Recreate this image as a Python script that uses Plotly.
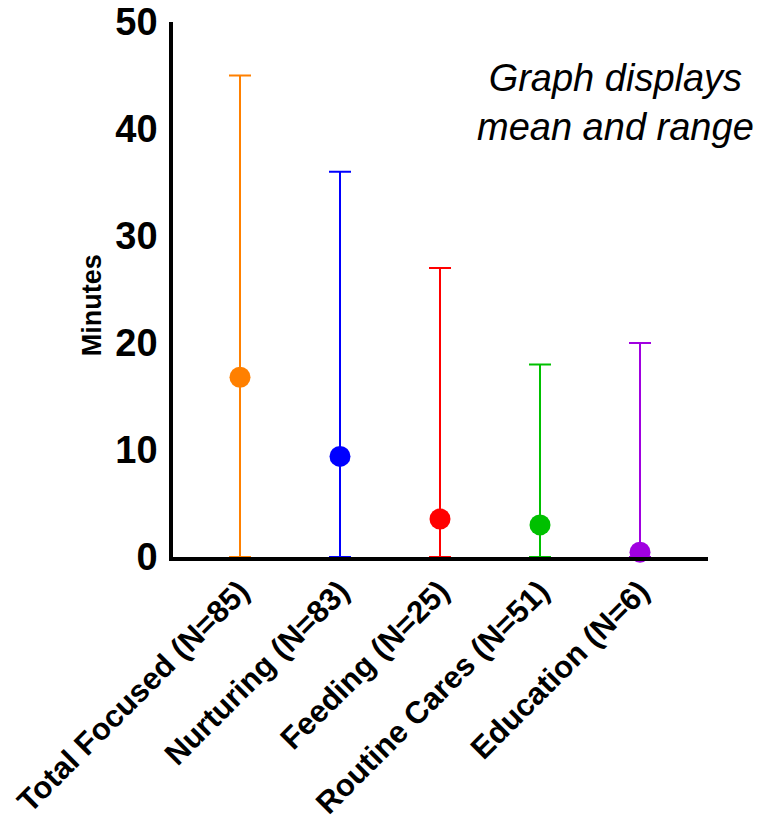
import plotly.graph_objects as go

categories = ["Total Focused (N=85)", "Nurturing (N=83)", "Feeding (N=25)",
              "Routine Cares (N=51)", "Education (N=6)"]
means = [16.8, 9.4, 3.55, 3.0, 0.45]
mins = [0, 0, 0, 0, 0]
maxs = [45, 36, 27, 18, 20]
colors = ["#FF8000", "#0000FF", "#FF0000", "#00C000", "#A000E0"]

FONT = "Liberation Sans, Arial, sans-serif"

fig = go.Figure()
for i, c in enumerate(categories):
    fig.add_trace(go.Scatter(
        x=[c], y=[means[i]], mode="markers",
        marker=dict(size=21, color=colors[i], symbol="circle"),
        error_y=dict(type="data", symmetric=False,
                     array=[maxs[i] - means[i]],
                     arrayminus=[means[i] - mins[i]],
                     color=colors[i], thickness=2, width=11),
        cliponaxis=False, showlegend=False))

fig.update_layout(
    width=762, height=828,
    paper_bgcolor="white", plot_bgcolor="white",
    margin=dict(l=173, r=54, t=22, b=271),
    font=dict(family=FONT, color="black"),
    xaxis=dict(range=[-0.67, 4.68], showgrid=False, zeroline=False,
               showline=True, linecolor="black", linewidth=3.5,
               ticks="", tickangle=-45, automargin=False,
               tickfont=dict(size=31, family=FONT, color="black", weight="bold")),
    yaxis=dict(range=[0, 50], showgrid=False, zeroline=False,
               showline=True, linecolor="black", linewidth=3.5,
               ticks="", tickvals=[0, 10, 20, 30, 40, 50], automargin=False,
               ticklabelstandoff=4,
               tickfont=dict(size=38, family=FONT, color="black", weight="bold")),
    annotations=[
        dict(text="<i>Graph displays<br>mean and range</i>",
             xref="paper", yref="paper", x=0.828, y=0.849,
             xanchor="center", yanchor="middle", showarrow=False,
             align="center",
             font=dict(size=38, family=FONT, color="black")),
        dict(text="<b>Minutes</b>", textangle=-90,
             xref="paper", yref="paper", x=-0.151, y=0.471,
             xanchor="center", yanchor="middle", showarrow=False,
             font=dict(size=27, family=FONT, color="black")),
    ],
)

fig.write_html("out.html", config={"displayModeBar": False},
               post_script="document.body.style.margin='0px';document.body.style.padding='0px';")
